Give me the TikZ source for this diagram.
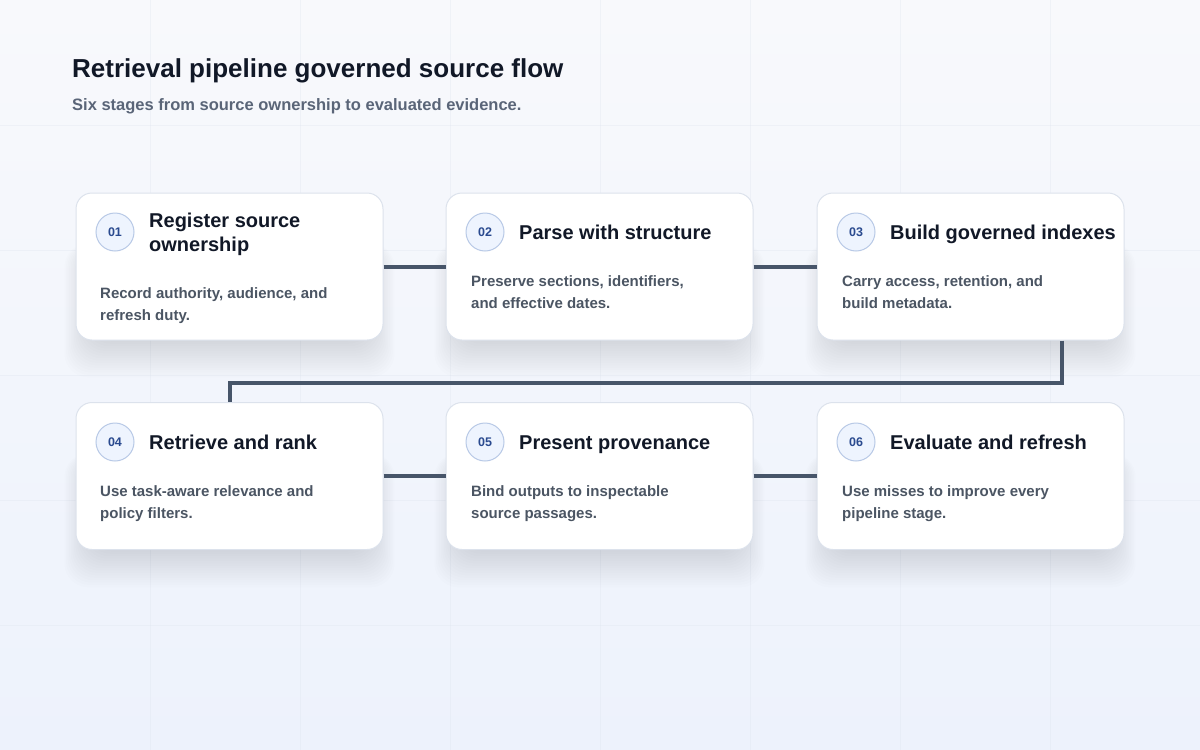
\documentclass[tikz,border=0pt]{standalone}
\usepackage{fontspec}
\setmainfont{Liberation Sans}
\definecolor{bgtop}{HTML}{F8F9FC}
\definecolor{bgbot}{HTML}{EDF2FC}
\definecolor{gridcol}{HTML}{DCE3EE}
\definecolor{ink}{HTML}{111827}
\definecolor{subink}{HTML}{5A6578}
\definecolor{muted}{HTML}{4B5563}
\definecolor{cardline}{HTML}{DCE2EC}
\definecolor{badgefill}{HTML}{EEF4FE}
\definecolor{badgeline}{HTML}{B8C9E6}
\definecolor{badgetext}{HTML}{2A4A8F}
\definecolor{linkcol}{HTML}{475569}
\definecolor{shadowcol}{HTML}{1E2A4A}
\begin{document}
\begin{tikzpicture}[x=1pt,y=-1pt,
  card/.style={rectangle,draw=cardline,fill=white,rounded corners=16pt,minimum width=307pt,minimum height=147pt,line width=1pt},
  badge/.style={circle,draw=badgeline,fill=badgefill,minimum size=38pt,inner sep=0pt,line width=1pt,font=\fontsize{12.5}{14}\selectfont\bfseries,text=badgetext},
  stagetitle/.style={anchor=base west,align=left,inner sep=0pt,font=\fontsize{20}{24}\selectfont\bfseries,text=ink},
  stagetext/.style={anchor=base west,align=left,inner sep=0pt,font=\fontsize{15}{22}\selectfont\bfseries,text=muted},
  link/.style={draw=linkcol,line width=4pt}]
\useasboundingbox (0,0) rectangle (1200,750);
\shade[top color=bgtop,bottom color=bgbot] (0,0) rectangle (1200,750);
%\foreach grid
\foreach \gx in {150,300,...,1050} \draw[gridcol,opacity=0.3,line width=1pt] (\gx,0) -- (\gx,750);
\foreach \gy in {125,250,...,625} \draw[gridcol,opacity=0.3,line width=1pt] (0,\gy) -- (1200,\gy);
% soft shadows under the cards
\foreach \cx/\cy in {76/193,446/193,817/193,76/403,446/403,817/403}
  \foreach \i in {1,...,16}
    \fill[shadowcol,opacity=0.008,rounded corners=24pt] (\cx+14-1.6*\i,\cy+50) rectangle (\cx+293+1.6*\i,\cy+146+2.4*\i);
\node[anchor=base west,inner sep=0pt,font=\fontsize{26}{30}\selectfont\bfseries,text=ink] (head) at (72,77) {Retrieval pipeline governed source flow};
\node[anchor=base west,inner sep=0pt,font=\fontsize{16.5}{20}\selectfont\bfseries,text=subink] (sub) at (72,110) {Six stages from source ownership to evaluated evidence.};
\node[card] (c1) at (229.5,266.5) {};
\node[card] (c2) at (599.5,266.5) {};
\node[card] (c3) at (970.5,266.5) {};
\node[card] (c4) at (229.5,476) {};
\node[card] (c5) at (599.5,476) {};
\node[card] (c6) at (970.5,476) {};
\node[badge] (b1) at (115,232) {01};
\node[badge] (b2) at (485,232) {02};
\node[badge] (b3) at (856,232) {03};
\node[badge] (b4) at (115,442) {04};
\node[badge] (b5) at (485,442) {05};
\node[badge] (b6) at (856,442) {06};
% base anchor = last line
\node[stagetitle] (t1) at (149,251) {Register source\\ownership};
\node[stagetitle] (t2) at (519,239) {Parse with structure};
\node[stagetitle] (t3) at (890,239) {Build governed indexes};
\node[stagetitle] (t4) at (149,449) {Retrieve and rank};
\node[stagetitle] (t5) at (519,449) {Present provenance};
\node[stagetitle] (t6) at (890,449) {Evaluate and refresh};
\node[stagetext] (d1) at (100,320.5) {Record authority, audience, and\\refresh duty.};
\node[stagetext] (d2) at (471,308.5) {Preserve sections, identifiers,\\and effective dates.};
\node[stagetext] (d3) at (842,308.5) {Carry access, retention, and\\build metadata.};
\node[stagetext] (d4) at (100,518.5) {Use task-aware relevance and\\policy filters.};
\node[stagetext] (d5) at (471,518.5) {Bind outputs to inspectable\\source passages.};
\node[stagetext] (d6) at (842,518.5) {Use misses to improve every\\pipeline stage.};
\coordinate (turn) at (1062,383);
\draw[link] (c1.east) -- (c2.west); \draw[link] (c2.east) -- (c3.west);
\draw[link] (c3.south -| turn) -- (turn) -| (c4.north);
\draw[link] (c4.east) -- (c5.west); \draw[link] (c5.east) -- (c6.west);
\end{tikzpicture}
\end{document}
